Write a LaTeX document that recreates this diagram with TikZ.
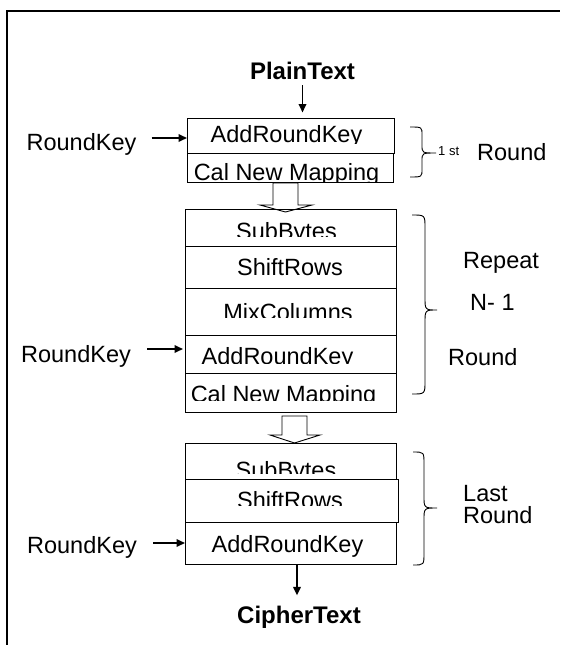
\documentclass[tikz,border=0pt]{standalone}
\usepackage{fontspec}
\setmainfont{Liberation Sans}
\usetikzlibrary{arrows.meta}

% right curly brace: end x, spine x, tip x, top y, bottom y, middle y, corner radius
\newcommand\roundbrace[7]{%
  \draw[brc] (#1,#4) .. controls (#2,#4) .. (#2,#4+#7) -- (#2,#6-#7)
    .. controls (#2,#6) .. (#3,#6)
    .. controls (#2,#6) .. (#2,#6+#7) -- (#2,#5-#7)
    .. controls (#2,#5) .. (#1,#5);}

% text of one cell, cut off at a given line: x left, x right, y top, y cut, centre x, baseline y, name, text
\newcommand\celltext[8]{%
  \begin{scope}
    \clip (#1,#3) rectangle (#2,#4);
    \node[lbl] (#7) at (#5,#6) {#8};
  \end{scope}}

\begin{document}
\begin{tikzpicture}[x=1pt,y=-1pt,
  lbl/.style={inner sep=0pt, anchor=base, font=\fontsize{23.5}{28}\selectfont},
  lblw/.style={lbl, anchor=base west},
  ttl/.style={lbl, font=\fontsize{24}{28}\selectfont\bfseries},
  cell/.style={draw, line width=1pt, inner sep=0pt},
  arr/.style={line width=1.8pt, -{Triangle[length=8.5pt,width=7.5pt]}},
  hollow/.style={draw, fill=white, line width=0.9pt, line join=miter},
  brc/.style={line width=0.9pt},
  frame/.style={line width=2pt}]

\useasboundingbox (0,0) rectangle (560,645);

% outer frame
\draw[frame] (7,645) -- (7,11) -- (560,11);

% block arrows between the rounds
\draw[hollow] (273,183) -- (298,183) -- (298,205) -- (312,205) -- (285.5,212)
  -- (260,205) -- (273,205) -- cycle;
\draw[hollow] (282,416) -- (307,416) -- (307,435) -- (320,435) -- (294.5,443)
  -- (270,435) -- (282,435) -- cycle;

% first round
\node[cell, minimum width=207pt, minimum height=35pt] (a1) at (290.5,135.5) {};
\node[cell, minimum width=206pt, minimum height=29pt] (c1) at (290,167.5) {};
\celltext{187}{394}{118}{143.5}{286.5}{142}{ta1}{AddRoundKey}
\celltext{187}{393}{153}{181.5}{286.5}{180}{tc1}{Cal New Mapping}

% repeated rounds
\node[cell, minimum width=211pt, minimum height=37pt] (s2) at (290.5,227.5) {};
\node[cell, minimum width=211pt, minimum height=42pt] (r2) at (290.5,267) {};
\node[cell, minimum width=211pt, minimum height=47pt] (m2) at (290.5,311.5) {};
\node[cell, minimum width=211pt, minimum height=38pt] (a2) at (290.5,354) {};
\node[cell, minimum width=211pt, minimum height=39pt] (c2) at (290.5,392.5) {};
\celltext{185}{396}{209}{236}{286.5}{239}{ts2}{SubBytes}
\celltext{185}{396}{246}{280}{290}{275}{tr2}{ShiftRows}
\celltext{185}{396}{288}{317}{288}{320}{tm2}{MixColumns}
\celltext{185}{396}{335}{363.5}{277.5}{364}{ta2}{AddRoundKey}
\celltext{185}{396}{373}{400}{283.5}{402}{tc2}{Cal New Mapping}

% last round
\node[cell, minimum width=211pt, minimum height=36pt] (s3) at (290.5,461) {};
\node[cell, minimum width=213pt, minimum height=43pt] (r3) at (291.5,500.5) {};
\node[cell, minimum width=211pt, minimum height=42pt] (a3) at (290.5,543) {};
\celltext{185}{396}{443}{473.5}{286}{478}{ts3}{SubBytes}
\celltext{185}{398}{479}{505.5}{290}{508}{tr3}{ShiftRows}
\node[lbl] (ta3) at (287.5,552) {AddRoundKey};

% input and output
\node[ttl] (pt) at (302.5,79) {PlainText};
\node[ttl] (ct) at (299,623) {CipherText};
\coordinate (cx) at (297,0);
\draw[arr, shorten <=6pt, shorten >=5pt] (pt.south) -- (pt.south |- a1.north);
\draw[arr, shorten >=10pt] (a3.south -| cx) -- (cx |- ct.north);

% round keys
\node[lbl] (rk1) at (81.5,150) {RoundKey};
\node[lbl] (rk2) at (76,362) {RoundKey};
\node[lbl] (rk3) at (82,553) {RoundKey};
\coordinate (k1) at (187,138);
\coordinate (k2) at (183,349);
\coordinate (k3) at (185,543);
\draw[arr, shorten <=15pt] (rk1.east |- k1) -- (k1);
\draw[arr, shorten <=16pt] (rk2.east |- k2) -- (k2);
\draw[arr, shorten <=16pt] (rk3.east |- k3) -- (k3);

% braces and round labels
\roundbrace{410}{422}{436}{127}{177}{153}{8}
\roundbrace{412}{425}{437}{215}{394}{310}{13}
\roundbrace{413}{424}{437}{452}{565}{508}{12}

\node[lblw, font=\fontsize{13}{15}\selectfont] (st) at (438,155) {1 st};
\node[lblw] (r1) at (477,160) {Round};
\node[lblw] (rep) at (463,268) {Repeat};
\node[lblw] (nm) at (470,310) {N- 1};
\node[lblw] (r2l) at (448,365) {Round};
\node[lblw] (last) at (463,501) {Last};
\node[lblw] (r3l) at (463,523) {Round};

\end{tikzpicture}
\end{document}
